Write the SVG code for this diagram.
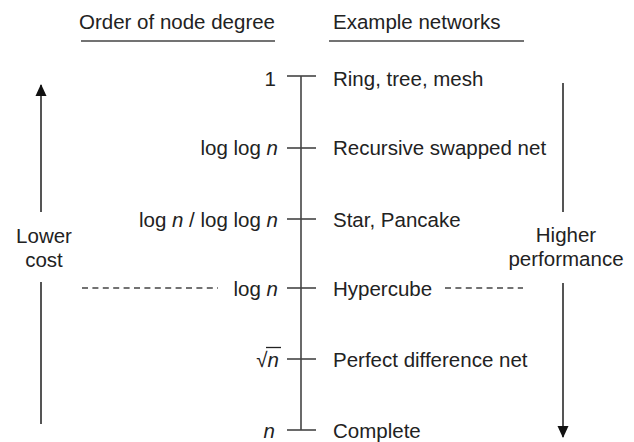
<svg xmlns="http://www.w3.org/2000/svg" width="634" height="442" viewBox="0 0 634 442">
<style>
text{font-family:"Liberation Sans",Arial,sans-serif;font-size:20.5px;fill:#222}
.l{text-anchor:end}
.c{text-anchor:middle}
.i{font-style:italic}
.ln{stroke:#444;stroke-width:1.6;fill:none}
.ar{stroke:#555;stroke-width:2;fill:none}
.d{stroke:#444;stroke-width:1.6;stroke-dasharray:6 4.4;fill:none}
</style>
<defs>
<marker id="ah" viewBox="0 0 12 12" refX="11" refY="6" markerWidth="12" markerHeight="12" markerUnits="userSpaceOnUse" orient="auto"><path d="M0,0.5 L12,6 L0,11.5 Z" fill="#111"/></marker>
</defs>
<g id="headers">
<text x="79" y="29">Order of node degree</text>
<text x="333" y="29">Example networks</text>
<line class="ln" x1="81" y1="41" x2="275" y2="41"/>
<line class="ln" x1="329" y1="41" x2="524" y2="41"/>
</g>
<g id="connectors">
<line class="ln" x1="301" y1="76" x2="301" y2="430"/>
<line class="ln" x1="287" y1="76" x2="316" y2="76"/>
<line class="ln" x1="287" y1="148" x2="316" y2="148"/>
<line class="ln" x1="287" y1="219" x2="316" y2="219"/>
<line class="ln" x1="287" y1="288" x2="316" y2="288"/>
<line class="ln" x1="287" y1="359" x2="316" y2="359"/>
<line class="ln" x1="287" y1="430" x2="316" y2="430"/>
<line class="ar" x1="41" y1="212" x2="41" y2="85" marker-end="url(#ah)"/>
<line class="ar" x1="41" y1="282" x2="41" y2="424"/>
<line class="ar" x1="563" y1="83" x2="563" y2="212"/>
<line class="ar" x1="563" y1="283" x2="563" y2="437" marker-end="url(#ah)"/>
<line class="d" x1="82" y1="288" x2="218" y2="288"/>
<line class="d" x1="445" y1="288" x2="523" y2="288"/>
</g>
<g id="lower-cost">
<text class="c" x="44" y="243">Lower</text>
<text class="c" x="44" y="267">cost</text>
</g>
<g id="higher-performance">
<text class="c" x="566" y="242">Higher</text>
<text class="c" x="566" y="266">performance</text>
</g>
<g id="row-1">
<text class="l" x="276" y="86">1</text>
<text x="333" y="86">Ring, tree, mesh</text>
</g>
<g id="row-loglogn">
<text class="l" x="278" y="155">log log <tspan class="i">n</tspan></text>
<text x="333" y="155">Recursive swapped net</text>
</g>
<g id="row-star">
<text class="l" x="278" y="227">log <tspan class="i">n</tspan> / log log <tspan class="i">n</tspan></text>
<text x="333" y="227">Star, Pancake</text>
</g>
<g id="row-hypercube">
<text class="l" x="278" y="296">log <tspan class="i">n</tspan></text>
<text x="333" y="296">Hypercube</text>
</g>
<g id="row-sqrtn">
<text class="l" x="279" y="367">√<tspan class="i">n</tspan></text>
<line x1="266" y1="347.5" x2="281" y2="347.5" stroke="#222" stroke-width="1.3"/>
<text x="333" y="367">Perfect difference net</text>
</g>
<g id="row-n">
<text class="l" x="275" y="438" font-style="italic">n</text>
<text x="333" y="438">Complete</text>
</g>
</svg>
